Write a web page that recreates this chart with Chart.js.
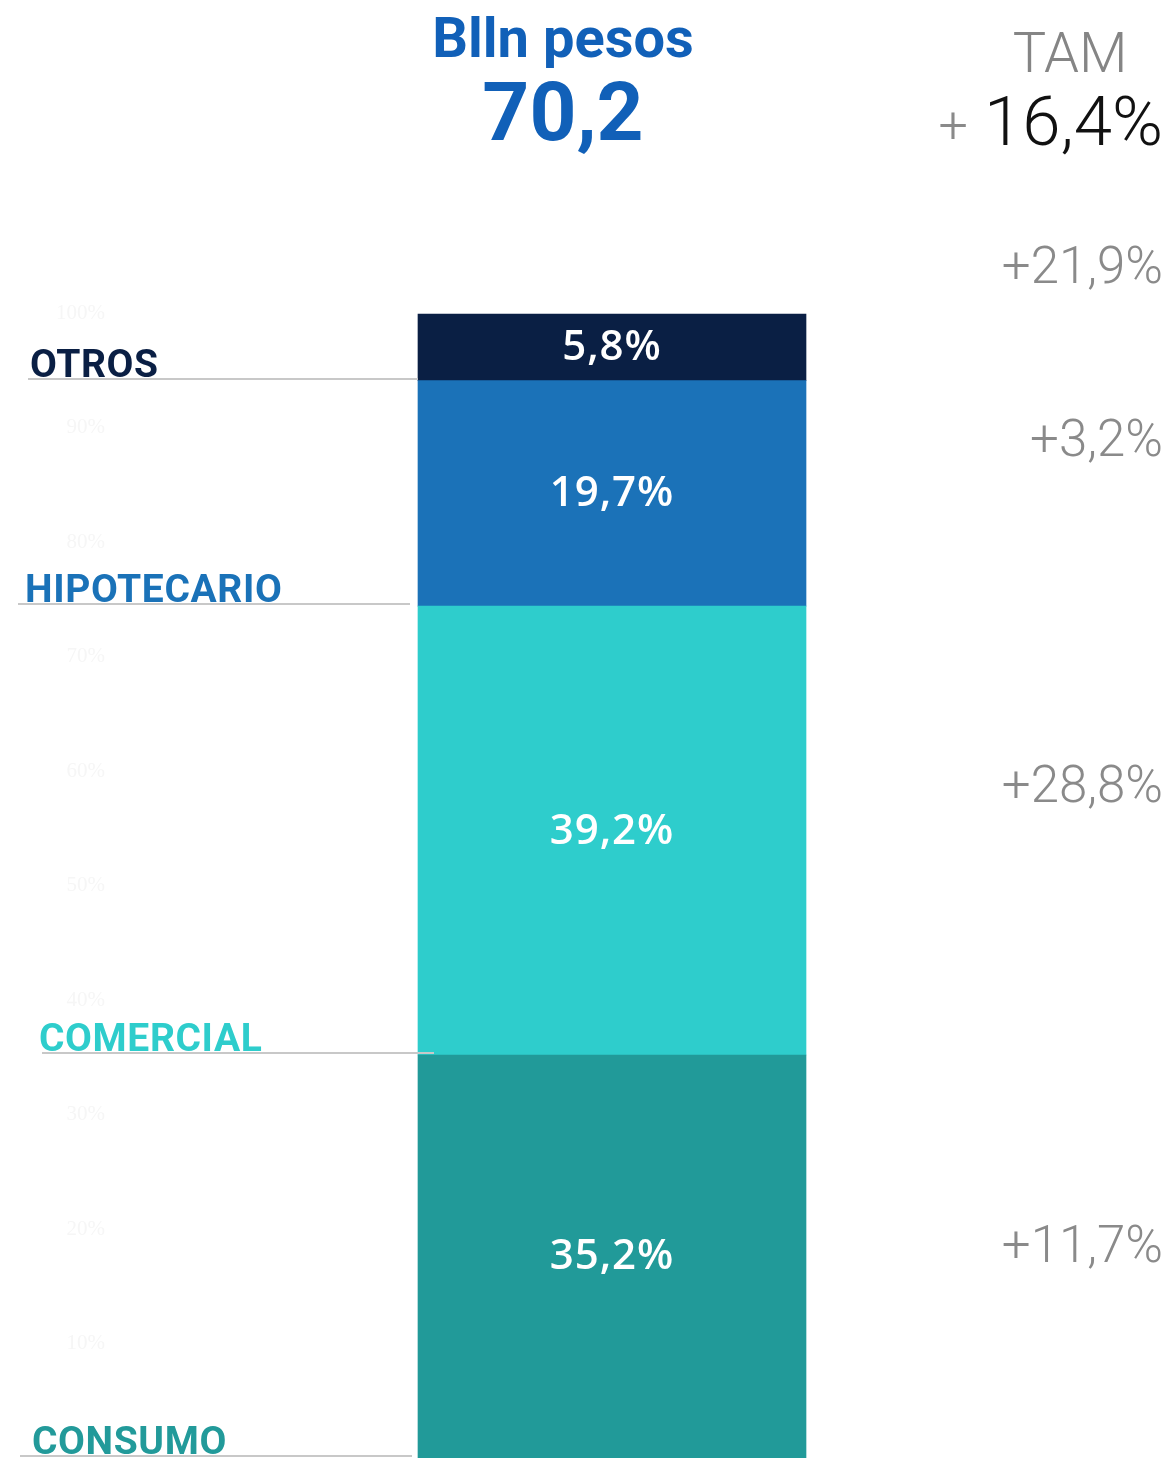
<!DOCTYPE html>
<html>
<head>
<meta charset="utf-8">
<script src="https://cdn.jsdelivr.net/npm/chart.js@4"></script>
<style>
  html, body { margin: 0; padding: 0; background: #fff; }
  #wrap { width: 1174px; height: 1458px; position: relative; }
</style>
</head>
<body>
<div id="wrap"><canvas id="chart"></canvas></div>
<script>
// data, bottom to top of the stack
const categories = ['CONSUMO', 'COMERCIAL', 'HIPOTECARIO', 'OTROS']
const shares = [35.2, 39.2, 19.7, 5.8]
const shareLabels = ['35,2%', '39,2%', '19,7%', '5,8%']
const growthLabels = ['+11,7%', '+28,8%', '+3,2%', '+21,9%']
const tickValues = [10, 20, 30, 40, 50, 60, 70, 80, 90, 100]
const totalTitle = 'Blln pesos'
const totalValue = '70,2'
const tamTitle = 'TAM'
const tamValue = '16,4%'

// styles
const segColors = ['#219a99', '#2ecdcc', '#1b72b8', '#0a1f44']
const nameColors = ['#229a9a', '#2ecdcc', '#1a72b8', '#0a1f44']
const nameX = [32, 39, 25, 30]
const lineFrom = [20, 42, 18, 28]
const lineTo = [412, 434, 410, 418]
const growthDy = [-7, -41, -50, -77]

const overlay = {
  id: 'overlay',
  afterDatasetsDraw(chart) {
    const ctx = chart.ctx
    const y = chart.scales.y
    ctx.save()

    // values inside the segments
    ctx.fillStyle = '#fff'
    ctx.font = '600 42px "Open Sans"'
    ctx.letterSpacing = '1px'
    ctx.textAlign = 'center'
    ctx.textBaseline = 'middle'
    chart.data.datasets.forEach((ds, i) => {
      const bar = chart.getDatasetMeta(i).data[0]
      ctx.fillText(shareLabels[i], bar.x, (bar.y + bar.base) / 2 + 1)
    })

    // category names + lines at the bottom of each segment
    let cum = 0
    ctx.letterSpacing = '0.6px'
    categories.forEach((name, i) => {
      const py = Math.round(y.getPixelForValue(cum)) - 2
      ctx.strokeStyle = '#c8c8c8'
      ctx.lineWidth = 2
      ctx.beginPath()
      ctx.moveTo(lineFrom[i], py)
      ctx.lineTo(lineTo[i], py)
      ctx.stroke()
      ctx.fillStyle = nameColors[i]
      ctx.font = 'bold 39px Roboto'
      ctx.textAlign = 'left'
      ctx.textBaseline = 'alphabetic'
      ctx.fillText(name, nameX[i], py - 2)
      cum += shares[i]
    })
    ctx.letterSpacing = '0px'

    // growth rates on the right
    cum = 0
    ctx.fillStyle = '#8a8a8a'
    ctx.font = '300 51px Roboto'
    ctx.textAlign = 'right'
    ctx.textBaseline = 'middle'
    shares.forEach((v, i) => {
      const cy = y.getPixelForValue(cum + v / 2) + growthDy[i]
      ctx.fillText(growthLabels[i], 1163, cy)
      cum += v
    })

    // header
    ctx.textAlign = 'center'
    ctx.textBaseline = 'alphabetic'
    ctx.fillStyle = '#1160b8'
    ctx.font = 'bold 56px Roboto'
    ctx.fillText(totalTitle, 563, 57)
    ctx.font = 'bold 82px Roboto'
    ctx.fillText(totalValue, 563, 140)

    ctx.fillStyle = '#858585'
    ctx.font = '300 56px Roboto'
    ctx.fillText(tamTitle, 1070, 72)
    ctx.textAlign = 'right'
    ctx.fillStyle = '#111'
    ctx.font = '300 69px Roboto'
    ctx.fillText(tamValue, 1163, 145)
    const w = ctx.measureText(tamValue).width
    ctx.fillStyle = '#8a8a8a'
    ctx.font = '300 52px Roboto'
    ctx.fillText('+', 1163 - w - 16, 143)

    ctx.restore()
  },
}

new Chart(document.getElementById('chart'), {
  type: 'bar',
  data: {
    labels: [''],
    datasets: categories.map((c, i) => ({
      label: c,
      data: [shares[i]],
      backgroundColor: segColors[i],
      borderWidth: 0,
      barThickness: 388,
    })),
  },
  options: {
    responsive: true,
    maintainAspectRatio: false,
    animation: false,
    layout: { padding: { top: 313, right: 60, bottom: 0, left: 0 } },
    plugins: { legend: { display: false }, tooltip: { enabled: false } },
    scales: {
      x: { stacked: true, display: false },
      y: {
        stacked: true,
        min: 0,
        max: 100,
        afterBuildTicks: (s) => { s.ticks = tickValues.map((v) => ({ value: v })) },
        afterFit: (s) => {
          s.width = 110
          s.paddingTop = 0
          s.paddingBottom = 0
        },
        grid: { display: false, drawTicks: false },
        border: { display: false },
        ticks: {
          color: '#f6f6f6',
          font: { family: 'Liberation Serif', size: 21 },
          padding: 5,
          callback: (v) => v + '%',
        },
      },
    },
  },
  plugins: [overlay],
})
</script>
</body>
</html>
